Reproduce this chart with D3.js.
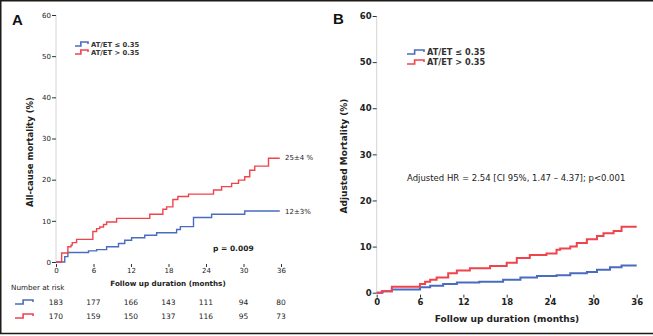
<!DOCTYPE html>
<html>
<head>
<meta charset="utf-8">
<script src="https://cdn.jsdelivr.net/npm/d3@7"></script>
<style>
  body { margin: 0; background: #fff; }
  svg { display: block; font-family: 'DejaVu Sans', Verdana, sans-serif; }
</style>
</head>
<body>
<div id="chart"></div>
<script>
// Panel A: Kaplan-Meier all-cause mortality (month, cumulative %)
const aLowT = [0, 1.4, 1.9, 5.2, 6.5, 8.1, 10, 11, 12.1, 14.2, 16.1, 19.3, 19.9, 22, 24.9, 30.2, 35.8]
const aLowV = [0, 1.3, 2.3, 2.7, 3.0, 3.7, 4.5, 5.3, 5.9, 6.5, 7.1, 7.9, 8.6, 10.8, 11.6, 12.4, 12.4]
const aHighT = [0, 0.9, 1.9, 2.4, 2.6, 3.3, 5.9, 6.5, 7.0, 7.6, 8.1, 9.7, 15, 17.1, 17.7, 18.7, 19.5, 21.2, 25.2, 26.5, 28.1, 29.2, 30.2, 31.0, 31.8, 34, 35.8]
const aHighV = [0, 2.2, 3.7, 4.1, 4.7, 5.5, 7.4, 8.1, 8.5, 9.1, 9.7, 10.6, 11.6, 12.8, 13.4, 15.2, 15.9, 16.5, 17.5, 18.3, 19.1, 19.9, 20.7, 22.3, 23.3, 25.2, 25.2]

// Panel B: adjusted mortality
const bLowT = [0, 0.8, 2.1, 6, 7.4, 9.2, 11.1, 14.2, 17.5, 19.9, 22.2, 24.9, 26.8, 29.1, 30.5, 32.3, 33.9, 36]
const bLowV = [0, 0.3, 0.7, 1.2, 1.5, 1.9, 2.2, 2.4, 2.8, 3.3, 3.6, 3.8, 4.2, 4.5, 5.0, 5.5, 5.9, 5.9]
const bHighT = [0, 0.7, 2.1, 6, 6.7, 7.4, 8.3, 9.9, 11.1, 12.9, 15.7, 18, 19.4, 21.2, 23.5, 24.9, 25.4, 26.8, 27.7, 29.1, 30.5, 31.4, 32.8, 33.9, 36]
const bHighV = [0, 0.3, 1.3, 1.9, 2.4, 2.8, 3.3, 4.2, 4.8, 5.3, 5.8, 6.5, 7.5, 8.2, 8.5, 9.3, 9.6, 10.0, 10.8, 11.6, 12.3, 12.9, 13.4, 14.3, 14.3]

const xTicks = [0, 6, 12, 18, 24, 30, 36]
const yTicks = [0, 10, 20, 30, 40, 50, 60]
const riskLow = [183, 177, 166, 143, 111, 94, 80]
const riskHigh = [170, 159, 150, 137, 116, 95, 73]
const groupNames = ['AT/ET \u2264 0.35', 'AT/ET > 0.35']

const blue = '#4a6cc0'
const red = '#f0444d'
const textColor = '#222'

const width = 653
const height = 336

const svg = d3.select('#chart')
  .append('svg')
  .attr('width', width)
  .attr('height', height)

// frame lines
svg.append('line').attr('x1', 0).attr('x2', width).attr('y1', 0.75).attr('y2', 0.75)
  .attr('stroke', '#1e1a16').attr('stroke-width', 1.5)
svg.append('line').attr('x1', 0.75).attr('x2', 0.75).attr('y1', 0).attr('y2', 334)
  .attr('stroke', '#1e1a16').attr('stroke-width', 1.5)
svg.append('line').attr('x1', 0).attr('x2', width).attr('y1', 333.5).attr('y2', 333.5)
  .attr('stroke', '#1e1a16').attr('stroke-width', 1.5)

const zip = (t, v) => t.map((d, i) => [d, v[i]])

function drawPanel (opts) {
  const x = d3.scaleLinear().domain([0, 36]).range(opts.xr)
  const y = d3.scaleLinear().domain([0, 60]).range(opts.yr)
  const g = svg.append('g')

  // y axis: light rule with dark ticks
  g.append('line')
    .attr('x1', x(0)).attr('x2', x(0))
    .attr('y1', y(60)).attr('y2', y(0))
    .attr('stroke', '#d4d4d4').attr('stroke-width', 1)

  const yAxis = g.append('g')
    .attr('transform', `translate(${x(0)},0)`)
    .call(d3.axisLeft(y).tickValues(yTicks).tickSize(4).tickPadding(1))
  yAxis.select('.domain').remove()
  yAxis.selectAll('.tick line').attr('stroke', '#333')
  yAxis.selectAll('.tick text')
    .attr('fill', textColor)
    .attr('font-size', opts.tickSize)
    .attr('font-weight', opts.tickWeight)
    .attr('font-family', 'DejaVu Sans')

  const xAxis = g.append('g')
    .attr('transform', `translate(0,${y(0) + 2})`)
    .call(d3.axisBottom(x).tickValues(xTicks).tickSize(3).tickPadding(1))
  xAxis.select('.domain').remove()
  xAxis.selectAll('.tick line').attr('stroke', '#333')
  xAxis.selectAll('.tick text')
    .attr('fill', textColor)
    .attr('font-size', opts.tickSize)
    .attr('font-weight', opts.tickWeight)
    .attr('font-family', 'DejaVu Sans')

  const line = d3.line()
    .x(d => x(d[0]))
    .y(d => y(d[1]))
    .curve(d3.curveStepAfter)

  opts.series.forEach(s => {
    g.append('path')
      .datum(s.data)
      .attr('fill', 'none')
      .attr('stroke', s.color)
      .attr('stroke-width', opts.lineWidth)
      .attr('d', line)
  })

  // panel letter
  g.append('text')
    .attr('x', opts.letterX).attr('y', opts.letterY)
    .attr('font-size', 15).attr('font-weight', 'bold')
    .attr('font-family', 'Liberation Sans, Arial, sans-serif')
    .attr('fill', '#111')
    .text(opts.letter)

  // y title
  g.append('text')
    .attr('transform', `translate(${opts.yTitleX},${opts.yTitleY}) rotate(-90)`)
    .attr('text-anchor', 'middle')
    .attr('font-size', opts.yTitleSize).attr('font-weight', 'bold')
    .attr('fill', textColor)
    .text(opts.yTitle)

  // x title
  g.append('text')
    .attr('x', opts.xTitleX).attr('y', opts.xTitleY)
    .attr('text-anchor', 'middle')
    .attr('font-size', opts.titleSize).attr('font-weight', 'bold')
    .attr('fill', textColor)
    .text('Follow up duration (months)')

  // legend
  const lg = g.append('g').attr('transform', `translate(${opts.legendX},${opts.legendY})`)
  opts.series.forEach((s, i) => {
    const yy = i * opts.legendGap
    legendIcon(lg, 0, yy, opts.legendIconW, s.color)
    lg.append('text')
      .attr('x', opts.legendIconW + 3).attr('y', yy + 3)
      .attr('font-size', opts.legendSize).attr('font-weight', 'bold')
      .attr('fill', '#333')
      .text(groupNames[i])
  })

  return { x, y, g }
}

function legendIcon (sel, x0, y0, w, color) {
  const p = d3.path()
  p.moveTo(x0, y0 + 2)
  p.lineTo(x0 + w * 0.45, y0 + 2)
  p.lineTo(x0 + w * 0.45, y0 - 2)
  p.lineTo(x0 + w, y0 - 2)
  p.lineTo(x0 + w, y0)
  sel.append('path')
    .attr('d', p.toString())
    .attr('fill', 'none')
    .attr('stroke', color)
    .attr('stroke-width', 1.6)
}

const A = drawPanel({
  xr: [56, 281],
  yr: [262, 15],
  tickSize: 7,
  tickWeight: 'normal',
  titleSize: 7.2,
  yTitleSize: 8.5,
  lineWidth: 1.4,
  letter: 'A', letterX: 12, letterY: 25,
  yTitle: 'All-cause mortality (%)', yTitleX: 33, yTitleY: 152,
  xTitleX: 168, xTitleY: 286,
  legendX: 75, legendY: 44, legendGap: 8, legendIconW: 13, legendSize: 6.8,
  series: [
    { data: zip(aLowT, aLowV), color: blue },
    { data: zip(aHighT, aHighV), color: red }
  ]
})

// end-of-curve estimates and log-rank p
A.g.append('text')
  .attr('x', 285).attr('y', A.y(aHighV[aHighV.length - 1]) + 2)
  .attr('font-size', 7).attr('fill', textColor)
  .text('25\u00b14 %')
A.g.append('text')
  .attr('x', 285).attr('y', A.y(aLowV[aLowV.length - 1]) + 3)
  .attr('font-size', 7).attr('fill', textColor)
  .text('12\u00b13%')
A.g.append('text')
  .attr('x', 213).attr('y', 251)
  .attr('font-size', 7.5).attr('font-weight', 'bold').attr('fill', textColor)
  .text('p = 0.009')

// number at risk table
const risk = A.g.append('g')
risk.append('text')
  .attr('x', 11).attr('y', 290)
  .attr('font-size', 7.2).attr('fill', textColor)
  .text('Number at risk')
;[riskLow, riskHigh].forEach((row, i) => {
  const yy = 305 + i * 14
  legendIcon(risk, 15, yy - 3, 18, i === 0 ? blue : red)
  risk.selectAll(null)
    .data(row)
    .enter()
    .append('text')
    .attr('x', (d, j) => A.x(xTicks[j]))
    .attr('y', yy)
    .attr('text-anchor', 'middle')
    .attr('font-size', 7.5)
    .attr('fill', textColor)
    .text(d => d)
})

const B = drawPanel({
  xr: [376.7, 636.7],
  yr: [292.7, 16],
  tickSize: 8.5,
  tickWeight: 'bold',
  titleSize: 9,
  yTitleSize: 9,
  lineWidth: 2,
  letter: 'B', letterX: 333, letterY: 24,
  yTitle: 'Adjusted Mortality (%)', yTitleX: 347, yTitleY: 156,
  xTitleX: 507, xTitleY: 322,
  legendX: 407, legendY: 52, legendGap: 10, legendIconW: 17, legendSize: 8.2,
  series: [
    { data: zip(bLowT, bLowV), color: blue },
    { data: zip(bHighT, bHighV), color: red }
  ]
})

B.g.append('text')
  .attr('x', 407).attr('y', 181)
  .attr('font-size', 8.5).attr('fill', textColor)
  .text('Adjusted HR = 2.54 [CI 95%, 1.47 \u2013 4.37]; p<0.001')
</script>
</body>
</html>
